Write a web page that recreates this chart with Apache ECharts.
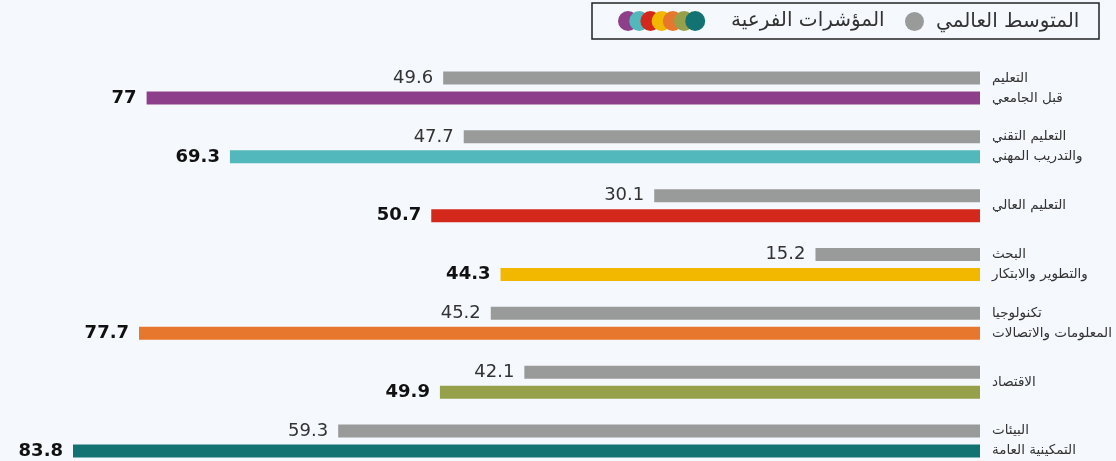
<!DOCTYPE html>
<html>
<head>
<meta charset="utf-8">
<script src="https://cdn.jsdelivr.net/npm/echarts@6/dist/echarts.min.js"></script>
<style>
  html, body { margin: 0; padding: 0; background: #f5f8fc; }
  #chart { width: 1116px; height: 461px; }
</style>
</head>
<body>
<div id="chart"></div>
<script>
// categories (top to bottom)
const categories = [
  'التعليم\nقبل الجامعي',
  'التعليم التقني\nوالتدريب المهني',
  'التعليم العالي',
  'البحث\nوالتطوير والابتكار',
  'تكنولوجيا\nالمعلومات والاتصالات',
  'الاقتصاد',
  'البيئات\nالتمكينية العامة'
];
const globalAvg = [49.6, 47.7, 30.1, 15.2, 45.2, 42.1, 59.3];
const subIndex = [77, 69.3, 50.7, 44.3, 77.7, 49.9, 83.8];
const subColors = ['#8e3f8a', '#52b8bb', '#d4281c', '#f2b800', '#e8772e', '#96a04a', '#137373'];
const avgColor = '#999b9b';

const NAME_AVG = 'المتوسط العالمي';
const NAME_SUB = 'المؤشرات الفرعية';
const FONT = 'DejaVu Sans';

const svgIcon = (w, h, body) => 'image://data:image/svg+xml;charset=utf-8,' + encodeURIComponent(
  `<svg xmlns="http://www.w3.org/2000/svg" width="${w}" height="${h}" viewBox="0 0 ${w} ${h}">${body}</svg>`);
// legend icons: one grey dot, and overlapping dots in the sub-indicator colours
const avgIcon = svgIcon(26, 19, `<circle cx="9.5" cy="9.5" r="9.5" fill="${avgColor}"/>`);
const dotsIcon = svgIcon(108, 20, subColors.map((c, i) => `<circle cx="${10 + i * 11.2}" cy="10" r="10" fill="${c}"/>`).join(''));

const myChart = echarts.init(document.getElementById('chart'));
myChart.setOption({
  backgroundColor: '#f5f8fc',
  animation: false,
  textStyle: { fontFamily: FONT },
  graphic: [{
    type: 'rect',
    shape: { x: 592, y: 3, width: 507, height: 36 },
    style: { fill: 'none', stroke: '#222', lineWidth: 1.5 },
    silent: true
  }],
  legend: [
    {
      data: [{ name: NAME_AVG, icon: avgIcon }],
      left: 905, top: 11.5, padding: 0,
      itemWidth: 26, itemHeight: 19,
      textStyle: { fontSize: 20, color: '#333', fontFamily: FONT },
      selectedMode: false
    },
    {
      data: [{ name: NAME_SUB, icon: dotsIcon }],
      left: 618, top: 11, padding: 0,
      itemWidth: 108, itemHeight: 20,
      textStyle: { fontSize: 20, color: '#333', fontFamily: FONT },
      selectedMode: false
    }
  ],
  grid: { left: 73, right: 136, top: 58.6, bottom: -9.4, outerBoundsMode: 'none' },
  xAxis: {
    type: 'value', inverse: true, min: 0, max: 83.8,
    show: false, splitLine: { show: false }
  },
  yAxis: {
    type: 'category', inverse: true, position: 'right',
    data: categories,
    axisLine: { show: false }, axisTick: { show: false },
    axisLabel: {
      margin: 12, align: 'left', fontSize: 13.5, lineHeight: 20,
      color: '#333', fontFamily: FONT
    }
  },
  series: [
    {
      name: NAME_AVG, type: 'bar', data: globalAvg,
      barWidth: 13, barGap: '54%',
      itemStyle: { color: avgColor },
      label: {
        show: true, position: 'left', distance: 10,
        fontSize: 18, color: '#333', fontFamily: FONT
      }
    },
    {
      name: NAME_SUB, type: 'bar',
      data: subIndex.map((v, i) => ({ value: v, itemStyle: { color: subColors[i] } })),
      barWidth: 13,
      itemStyle: { color: subColors[6] },
      label: {
        show: true, position: 'left', distance: 10,
        fontSize: 18, fontWeight: 'bold', color: '#111', fontFamily: FONT
      }
    }
  ]
});
</script>
</body>
</html>
